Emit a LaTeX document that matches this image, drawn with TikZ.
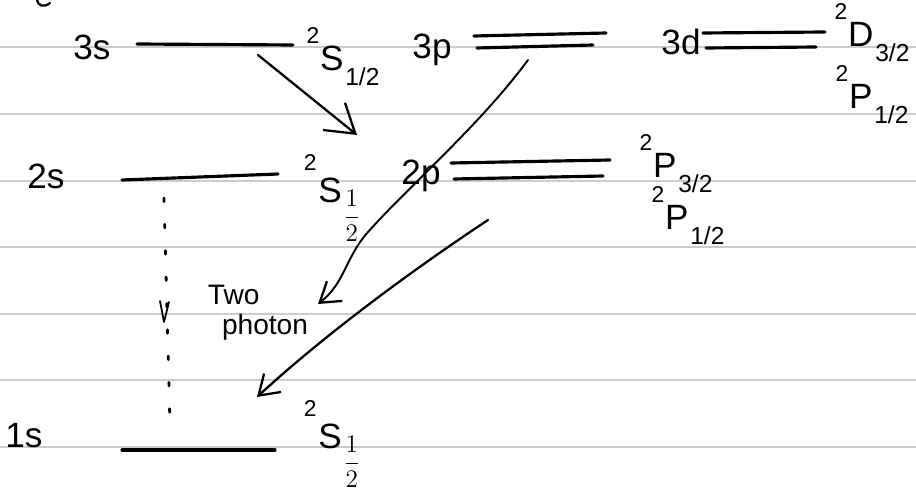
\documentclass[tikz,border=0pt]{standalone}
\usepackage{fontspec}
\setmainfont{Liberation Sans}
\usetikzlibrary{arrows.meta}
% term symbol: small superscript 2, letter, lowered subscript
\newcommand\termlbl[2]{\raisebox{0.75em}{\fontsize{13}{13}\selectfont 2}\kern0.5pt#1\kern1pt\raisebox{-0.45em}{\fontsize{14}{14}\selectfont #2}}
\newcommand\termhalf[1]{\raisebox{0.9em}{\fontsize{13}{13}\selectfont 2}\kern1pt#1\kern1pt\raisebox{-0.62em}{\fontsize{14.5}{14.5}\selectfont$\displaystyle\frac{1}{2}$}}
\begin{document}
\begin{tikzpicture}[x=0.02cm,y=-0.02cm,
  rule/.style={draw=black!20, line width=0.7pt},
  level/.style={draw=black, line width=1.8pt, line cap=round},
  pen/.style={draw=black, line width=1.3pt, line cap=round, line join=round},
  lbl/.style={inner sep=0pt, font=\fontsize{20}{24}\selectfont},
  note/.style={inner sep=0pt, align=left, font=\fontsize{16}{17}\selectfont},
  bigbarb/.style={-{Straight Barb[length=5.5mm, width=7mm, line width=1.3pt]}},
  barb/.style={-{Straight Barb[length=3.8mm, width=5mm, line width=1.3pt]}},
  dots/.style={draw=black, line width=1.6pt, line cap=round, dash pattern=on 2pt off 13pt}]
\useasboundingbox (0,0) rectangle (916,496);
\fill[white] (0,0) rectangle (916,496);

% ruled notebook lines
\foreach \yy in {47,114,181,247,314,380,447}
  \draw[rule] (0,\yy) -- (916,\yy);

% stray pen stroke at the top edge
\draw[pen] (37,0) .. controls (38,6) and (44,8) .. (50,3);

% ---- n = 3 ----
\node[lbl] (n3s) at (92,47) {3s};
\coordinate (s3a) at (137,44);
\coordinate (s3b) at (293,45);
\draw[level] (s3a) -- (s3b);
\node[lbl] (t3s) at (343,57) {\termlbl{S}{1/2}};

\node[lbl] (n3p) at (432,50) {3p};
\coordinate (p3a) at (474,36); \coordinate (p3b) at (606,33);
\coordinate (p3c) at (477,48); \coordinate (p3d) at (593,45);
\draw[level] (p3a) -- (p3b);
\draw[level] (p3c) -- (p3d);

\node[lbl] (n3d) at (681,42) {3d};
\coordinate (d3a) at (703,33); \coordinate (d3b) at (825,32);
\coordinate (d3c) at (706,48); \coordinate (d3d) at (816,47);
\draw[level] (d3a) -- (d3b);
\draw[level] (d3c) -- (d3d);
\node[lbl] (t3d1) at (872,33) {\termlbl{D}{3/2}};
\node[lbl] (t3d2) at (872,95) {\termlbl{P}{1/2}};

% ---- n = 2 ----
\node[lbl] (n2s) at (46,176) {2s};
\coordinate (s2a) at (122,180);
\coordinate (s2b) at (278,174);
\draw[level] (s2a) -- (s2b);
\node[lbl] (t2s) at (332,198) {\termhalf{S}};

\node[lbl] (n2p) at (421,176) {2p};
\coordinate (p2a) at (451,163); \coordinate (p2b) at (610,160);
\coordinate (p2c) at (454,179); \coordinate (p2d) at (603,176);
\draw[level] (p2a) -- (p2b);
\draw[level] (p2c) -- (p2d);
\node[lbl] (t2p1) at (676,164) {\termlbl{P}{3/2}};
\node[lbl] (t2p2) at (688,216) {\termlbl{P}{1/2}};

% ---- n = 1 ----
\node[lbl] (n1s) at (24,436) {1s};
\coordinate (s1a) at (122,450);
\coordinate (s1b) at (275,450);
\draw[level] (s1a) -- (s1b);
\node[lbl] (t1s) at (332,444) {\termhalf{S}};

% ---- transitions ----
% 3s -> 2p
\coordinate (a1s) at (258,55);
\coordinate (a1e) at (357,135);
\draw[pen, bigbarb] (a1s) -- (a1e);

% 3p -> two-photon region
\coordinate (a2s) at (528,60);
\coordinate (a2m) at (368,232);
\coordinate (a2e) at (318,304);
\draw[pen, line width=1.1pt, barb] (a2s) .. controls (480,125) and (410,185) .. (a2m)
  .. controls (345,258) and (345,283) .. (a2e);

% 2p -> 1s
\coordinate (a3s) at (488,220);
\coordinate (a3e) at (257,397);
\draw[pen, barb] (a3s) .. controls (420,265) and (330,330) .. (a3e);

% 2s -> 1s two-photon decay (dotted)
\coordinate (tpa) at (164,198);
\coordinate (tpb) at (170,424);
\draw[dots] (tpa) -- (tpb);
\coordinate (va) at (160,301);
\coordinate (vt) at (164,322);
\coordinate (vb) at (169,302);
\draw[pen, line width=1pt] (va) -- (vt) -- (vb);

\node[note] (twoph) at (258,313) {Two\\\hspace*{8pt}photon};
\end{tikzpicture}
\end{document}
